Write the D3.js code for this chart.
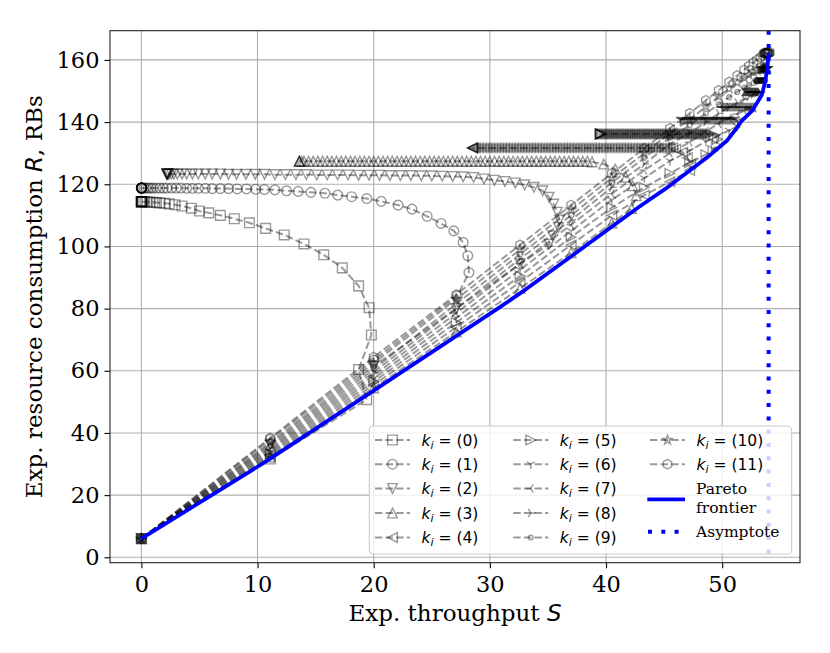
<!DOCTYPE html>
<html>
<head>
<meta charset="utf-8">
<script src="https://cdn.jsdelivr.net/npm/d3@7"></script>
<style>
  body { margin: 0; background: #fff; }
</style>
</head>
<body>
<div id="chart"></div>
<script>
// ---- data ----
const xTicks = [0, 10, 20, 30, 40, 50];
const yTicks = [0, 20, 40, 60, 80, 100, 120, 140, 160];
const seriesLabels = ["(0)", "(1)", "(2)", "(3)", "(4)", "(5)", "(6)", "(7)", "(8)", "(9)", "(10)", "(11)"];
const seriesMarkers = ["square", "circle", "triDown", "triUp", "triLeft", "triRight",
                       "tri1", "tri3", "tri4", "point", "star", "hexagon"];

// k = 0
const s0x = [0, 11.1, 19.4, 18.7, 19.8, 19.6, 18.7, 17.3, 15.7, 14.0, 12.3, 10.7, 9.3, 8.0, 6.8, 5.8, 5.0, 4.3, 3.5, 2.9, 2.4, 2.0, 1.6, 1.3, 1.0, 0.7, 0.5, 0.3, 0.15, 0.05, 0];
const s0y = [6, 31.6, 50.7, 60.4, 71.5, 80.3, 87.3, 93.1, 97.3, 100.8, 103.7, 105.8, 107.6, 108.9, 110.0, 110.8, 111.4, 112.3, 113.0, 113.4, 113.7, 113.9, 114.0, 114.1, 114.2, 114.3, 114.3, 114.4, 114.4, 114.4, 114.4];
const band0x = [0.03, 0.02, 0.01, 0, 0, 0, 0];
const band0y = 114.4;
// k = 1
const s1x = [0, 11.1, 20.0, 27.2, 28.2, 28.1, 27.7, 26.9, 25.8, 24.6, 23.3, 22.1, 20.65, 19.4, 18.1, 16.9, 15.8, 14.6, 13.5, 12.5, 11.5, 10.6, 9.85, 9.05, 8.25, 7.5, 6.8, 6.1, 5.5, 4.9, 4.4, 3.9];
const s1y = [6, 37.9, 63.4, 84.1, 91.6, 97.0, 101.3, 105.0, 107.4, 109.7, 112.0, 113.3, 114.5, 115.4, 116.0, 116.5, 117.1, 117.4, 117.7, 117.9, 118.2, 118.3, 118.4, 118.5, 118.5, 118.6, 118.6, 118.6, 118.7, 118.7, 118.7, 118.7];
const band1x = [3.4, 3.0, 2.6, 2.2, 1.9, 1.6, 1.3, 1.0, 0.8, 0.6, 0.4, 0.25, 0.1, 0.05, 0.03, 0.02, 0.01, 0, 0, 0, 0, 0];
const band1y = 118.8;
// k = 2
const s2x = [0, 11.1, 20, 27.1, 32.6, 35.1, 35.4, 35.9, 36.0, 35.8, 35.5, 35.1, 34.55, 33.8, 33.0, 32.2, 31.3, 30.4, 29.5, 28.6, 27.7, 26.8, 25.9, 25.0, 24.1, 23.2, 22.3, 21.4, 20.5, 19.6, 18.7, 17.8, 16.9, 16.0, 15.1, 14.2, 13.3, 12.4, 11.5, 10.6, 9.8, 9.0, 8.2, 7.5];
const s2y = [6, 36.4, 61.5, 80, 94.3, 100.7, 103.4, 106.1, 108.5, 111, 113.6, 115.8, 117.9, 119.0, 119.8, 120.4, 120.9, 121.3, 121.7, 122.2, 122.4, 122.5, 122.6, 122.7, 122.7, 122.8, 122.8, 122.8, 122.9, 122.9, 122.9, 123.0, 123.0, 123.0, 123.0, 123.1, 123.1, 123.1, 123.1, 123.2, 123.2, 123.2, 123.2, 123.2];
const band2x = [6.8, 6.1, 5.5, 4.9, 4.4, 3.9, 3.5, 3.1, 2.8, 2.6, 2.4, 2.3, 2.25, 2.2, 2.2, 2.2, 2.2];
const band2y = 123.3;
// k = 3
const s3x = [0, 11.1, 20, 27.1, 32.6, 37, 40.5, 42.2, 42.6, 42.3, 41.7, 40.8, 39.8, 38.8];
const s3y = [6, 32.3, 54.5, 72.5, 86.5, 98, 107.5, 112.2, 116.3, 119.5, 122.3, 124.9, 126.5, 127.2];
const band3x = [38.4, 38.0, 37.6, 37.2, 36.8, 36.4, 36.0, 35.6, 35.2, 34.8, 34.4, 34.0, 33.6, 33.2, 32.8, 32.4, 32.0, 31.6, 31.2, 30.8, 30.4, 30.0, 29.6, 29.2, 28.8, 28.4, 28.0, 27.6, 27.2, 26.8, 26.4, 26.0, 25.6, 25.2, 24.8, 24.4, 24.0, 23.6, 23.2, 22.8, 22.4, 22.0, 21.6, 21.2, 20.8, 20.4, 20.0, 19.6, 19.2, 18.8, 18.4, 18.0, 17.6, 17.2, 16.8, 16.4, 16.0, 15.6, 15.2, 14.8, 14.4, 14.0, 13.8, 13.6, 13.6, 13.6];
const band3y = 127.4;
// k = 4
const s4x = [0, 11.1, 20, 27.1, 32.6, 37, 40.5, 43.3, 45.5, 47.2, 47.3, 47.0, 46.6, 46.0];
const s4y = [6, 32.8, 55.5, 74, 88.5, 100.5, 110, 116.5, 120.8, 124.5, 126.5, 128.5, 130.3, 131.3];
const band4x = [45.75, 45.5, 45.25, 45.0, 44.75, 44.5, 44.25, 44.0, 43.75, 43.5, 43.25, 43.0, 42.75, 42.5, 42.25, 42.0, 41.75, 41.5, 41.25, 41.0, 40.75, 40.5, 40.25, 40.0, 39.75, 39.5, 39.25, 39.0, 38.75, 38.5, 38.25, 38.0, 37.75, 37.5, 37.25, 37.0, 36.75, 36.5, 36.25, 36.0, 35.75, 35.5, 35.25, 35.0, 34.75, 34.5, 34.25, 34.0, 33.75, 33.5, 33.25, 33.0, 32.75, 32.5, 32.25, 32.0, 31.75, 31.5, 31.25, 31.0, 30.75, 30.5, 30.25, 30.0, 29.75, 29.5, 29.25, 29.0, 28.75, 28.6, 28.5, 28.5, 28.5];
const band4y = 131.7;
// k = 5
const s5x = [0, 11.1, 20, 27.1, 32.6, 37, 40.5, 43.3, 45.5, 47.2, 48.6, 49.2, 49.5, 49.6, 49.3];
const s5y = [6, 33.4, 56.5, 75.5, 90.5, 103, 112.5, 119, 123.5, 127, 129.5, 130.8, 132.6, 134.5, 135.7];
const band5x = [49.0, 48.85, 48.7, 48.55, 48.4, 48.25, 48.1, 47.95, 47.8, 47.65, 47.5, 47.35, 47.2, 47.05, 46.9, 46.75, 46.6, 46.45, 46.3, 46.15, 46.0, 45.85, 45.7, 45.55, 45.4, 45.25, 45.1, 44.95, 44.8, 44.65, 44.5, 44.35, 44.2, 44.05, 43.9, 43.75, 43.6, 43.45, 43.3, 43.15, 43.0, 42.85, 42.7, 42.55, 42.4, 42.25, 42.1, 41.95, 41.8, 41.65, 41.5, 41.35, 41.2, 41.05, 40.9, 40.75, 40.6, 40.45, 40.3, 40.15, 40.0, 39.85, 39.7, 39.6, 39.55, 39.5, 39.5, 39.5];
const band5y = 136.2;
// k = 6
const s6x = [0, 11.1, 20, 27.1, 32.6, 37, 40.5, 43.3, 45.5, 47.2, 48.6, 49.7, 50.6, 51.3, 51.5, 51.3];
const s6y = [6, 34, 57.5, 77, 92.5, 105, 115, 122, 127.5, 130.8, 133.8, 135.8, 137.3, 138.6, 139.6, 140.5];
const band6x = [51.1, 51.0, 50.9, 50.8, 50.7, 50.6, 50.5, 50.4, 50.3, 50.2, 50.1, 50.0, 49.9, 49.8, 49.7, 49.6, 49.5, 49.4, 49.3, 49.2, 49.1, 49.0, 48.9, 48.8, 48.7, 48.6, 48.5, 48.4, 48.3, 48.2, 48.1, 48.0, 47.9, 47.8, 47.7, 47.6, 47.5, 47.4, 47.3, 47.2, 47.1, 47.0, 46.9, 46.8, 46.7, 46.6, 46.5, 46.4, 46.4];
const band6y = 140.8;
// k = 7
const s7x = [0, 11.1, 20, 27.1, 32.6, 37, 40.5, 43.3, 45.5, 47.2, 48.6, 49.7, 50.6, 51.3, 51.9, 52.3, 52.7];
const s7y = [6, 34.6, 58.5, 78.5, 94.5, 107, 117, 124.5, 130, 133.5, 137, 139.5, 141.3, 142.6, 143.6, 144.2, 144.5];
const band7x = [52.7, 52.6, 52.5, 52.4, 52.3, 52.2, 52.1, 52.0, 51.9, 51.8, 51.7, 51.6, 51.5, 51.4, 51.3, 51.2, 51.1, 51.0, 50.9, 50.8, 50.7, 50.6, 50.5, 50.4, 50.3, 50.2, 50.1, 50.0, 49.9, 49.9];
const band7y = 144.8;
// k = 8
const s8x = [0, 11.1, 20, 27.1, 32.6, 37, 40.5, 43.3, 45.5, 47.2, 48.6, 49.7, 50.6, 51.3, 51.9, 52.3, 52.7, 53.0, 53.3];
const s8y = [6, 35.2, 59.5, 80, 96, 108.5, 119, 126.5, 133, 136.5, 140, 142.8, 144.8, 146.3, 147.4, 148.2, 148.9, 149.3, 149.6];
const band8x = [53.25, 53.2, 53.15, 53.1, 53.05, 53.0, 52.95, 52.9, 52.85, 52.8, 52.75, 52.7, 52.65, 52.6, 52.55, 52.5, 52.45, 52.4, 52.35, 52.3, 52.25, 52.2, 52.15, 52.1, 52.05, 52.0, 51.95, 51.9];
const band8y = 149.7;
// k = 9
const s9x = [0, 11.1, 20, 27.1, 32.6, 37, 40.5, 43.3, 45.5, 47.2, 48.6, 49.7, 50.6, 51.3, 51.9, 52.3, 52.7, 53.0, 53.3, 53.5, 53.7];
const s9y = [6, 35.8, 60.5, 81.5, 97.5, 110, 120.5, 128.5, 135, 139, 142.8, 145.7, 148, 149.7, 151.1, 151.9, 152.6, 153.0, 153.3, 153.4, 153.4];
const band9x = [53.65, 53.6, 53.55, 53.5, 53.45, 53.4, 53.35, 53.3, 53.25, 53.2, 53.15, 53.1, 53.05, 53.0, 52.95, 52.9];
const band9y = 153.4;
// k = 10
const s10x = [0, 11.1, 20, 27.1, 32.6, 37, 40.5, 43.3, 45.5, 47.2, 48.6, 49.7, 50.6, 51.3, 51.9, 52.3, 52.7, 53.0, 53.3, 53.6, 53.9];
const s10y = [6, 37, 62.5, 83, 99, 111.8, 122, 130, 136.5, 140.8, 145, 148.2, 150.8, 152.7, 154.2, 155.2, 156, 156.6, 157, 157.2, 157.3];
const band10x = [53.85, 53.8, 53.75, 53.7, 53.65, 53.6, 53.55, 53.5, 53.45, 53.4];
const band10y = 157.2;
// k = 11
const s11x = [0, 11.1, 20, 27.1, 32.6, 37, 40.5, 43.3, 45.5, 47.2, 48.6, 49.7, 50.6, 51.3, 51.9, 52.3, 52.7, 53.0, 53.3, 53.5, 53.7, 53.9, 54.1];
const s11y = [6, 38.4, 64.4, 84.5, 100.5, 113.3, 123.5, 131.5, 138, 142.8, 147, 150.2, 152.9, 155, 156.8, 158, 159.2, 160, 160.8, 161.4, 161.9, 162.3, 162.5];
const band11x = [54.05, 54.0, 53.95, 53.9, 53.85, 53.8, 53.75, 53.7, 53.65, 53.6];
const band11y = 162.2;

// Pareto frontier and asymptote
const paretoX = [0, 10.5, 19.9, 30.8, 33.1, 42.8, 45.1, 48.9, 50.4, 51.2, 51.7, 52.6, 53.4, 53.7, 53.9, 54.0];
const paretoY = [6, 30.3, 53.4, 80.3, 86.2, 112.6, 118.5, 129.2, 134, 137.8, 140.5, 143.7, 148.6, 152.9, 157.7, 162.2];
const asymptoteX = 54;

const seriesX = [s0x, s1x, s2x, s3x, s4x, s5x, s6x, s7x, s8x, s9x, s10x, s11x];
const seriesY = [s0y, s1y, s2y, s3y, s4y, s5y, s6y, s7y, s8y, s9y, s10y, s11y];
const bandsX = [band0x, band1x, band2x, band3x, band4x, band5x, band6x, band7x, band8x, band9x, band10x, band11x];
const bandsY = [band0y, band1y, band2y, band3y, band4y, band5y, band6y, band7y, band8y, band9y, band10y, band11y];

// ---- layout ----
const width = 830, height = 653;
const plot = { left: 110, right: 800, top: 30.7, bottom: 562.7 };
const serif = "'DejaVu Serif', serif";
const sans = "'DejaVu Sans', sans-serif";
const grey = "#000";
const greyAlpha = 0.4;
const fontTick = "22.5px";
const fontLabel = "23px";
const fontLegend = "15.5px";

const x = d3.scaleLinear().domain([-2.7, 56.7]).range([plot.left, plot.right]);
const y = d3.scaleLinear().domain([-1.74, 169.4]).range([plot.bottom, plot.top]);

const svg = d3.select("#chart").append("svg")
    .attr("width", width)
    .attr("height", height)
    .style("display", "block");

svg.append("defs").append("clipPath").attr("id", "plotClip")
    .append("rect")
    .attr("x", plot.left).attr("y", plot.top)
    .attr("width", plot.right - plot.left).attr("height", plot.bottom - plot.top);

// grid
const grid = svg.append("g");
grid.selectAll(".gx").data(xTicks).join("line")
    .attr("x1", d => x(d)).attr("x2", d => x(d))
    .attr("y1", plot.top).attr("y2", plot.bottom)
    .attr("stroke", "#b0b0b0").attr("stroke-width", 1.1);
grid.selectAll(".gy").data(yTicks).join("line")
    .attr("y1", d => y(d)).attr("y2", d => y(d))
    .attr("x1", plot.left).attr("x2", plot.right)
    .attr("stroke", "#b0b0b0").attr("stroke-width", 1.1);

// marker shapes (matplotlib-like, markersize ~9.7px)
function markerPath(type) {
    const h = 4.85;
    const poly = pts => "M" + pts.map(p => p[0].toFixed(2) + "," + p[1].toFixed(2)).join("L") + "Z";
    const spokes = angs => angs.map(a => {
        const r = a * Math.PI / 180;
        return `M0,0L${(h * Math.cos(r)).toFixed(2)},${(h * Math.sin(r)).toFixed(2)}`;
    }).join("");
    switch (type) {
        case "square": return poly([[-h, -h], [h, -h], [h, h], [-h, h]]);
        case "circle": return `M${h},0A${h},${h} 0 1,1 ${-h},0A${h},${h} 0 1,1 ${h},0Z`;
        case "point": { const r = h / 2; return `M${r},0A${r},${r} 0 1,1 ${-r},0A${r},${r} 0 1,1 ${r},0Z`; }
        case "triDown": return poly([[0, h], [-h, -h], [h, -h]]);
        case "triUp": return poly([[0, -h], [-h, h], [h, h]]);
        case "triLeft": return poly([[-h, 0], [h, -h], [h, h]]);
        case "triRight": return poly([[h, 0], [-h, -h], [-h, h]]);
        case "tri1": return spokes([90, 210, 330]);
        case "tri3": return spokes([180, 300, 60]);
        case "tri4": return spokes([0, 120, 240]);
        case "star": {
            const pts = [];
            for (let i = 0; i < 10; i++) {
                const r = i % 2 ? h * 0.381966 : h;
                const a = (-90 + 36 * i) * Math.PI / 180;
                pts.push([r * Math.cos(a), r * Math.sin(a)]);
            }
            return poly(pts);
        }
        case "hexagon": {
            const pts = [];
            for (let i = 0; i < 6; i++) {
                const a = (-90 + 60 * i) * Math.PI / 180;
                pts.push([h * Math.cos(a), h * Math.sin(a)]);
            }
            return poly(pts);
        }
    }
}

const line = d3.line().x(d => x(d[0])).y(d => y(d[1]));

// series
const dataLayer = svg.append("g").attr("clip-path", "url(#plotClip)");
seriesX.forEach((xs, k) => {
    const pts = d3.zip(xs, seriesY[k]).concat(bandsX[k].map(v => [v, bandsY[k]]));
    const g = dataLayer.append("g");
    g.append("path")
        .attr("d", line(pts))
        .attr("fill", "none")
        .attr("stroke", grey)
        .attr("stroke-opacity", greyAlpha)
        .attr("stroke-width", 2)
        .attr("stroke-dasharray", "7.4,3.2");
    g.selectAll("path.mk").data(pts).join("path")
        .attr("class", "mk")
        .attr("transform", d => `translate(${x(d[0])},${y(d[1])})`)
        .attr("d", markerPath(seriesMarkers[k]))
        .attr("fill", "none")
        .attr("stroke", grey)
        .attr("stroke-opacity", greyAlpha)
        .attr("stroke-width", 1.39);
});

// Pareto frontier
dataLayer.append("path")
    .attr("d", line(d3.zip(paretoX, paretoY)))
    .attr("fill", "none")
    .attr("stroke", "#0000ff")
    .attr("stroke-width", 3.8)
    .attr("stroke-linejoin", "round");

// asymptote
dataLayer.append("line")
    .attr("x1", x(asymptoteX)).attr("x2", x(asymptoteX))
    .attr("y1", plot.top).attr("y2", plot.bottom)
    .attr("stroke", "#0000ff")
    .attr("stroke-width", 4)
    .attr("stroke-dasharray", "4,9.3");

// axes
const xAxis = svg.append("g")
    .attr("transform", `translate(0,${plot.bottom})`)
    .call(d3.axisBottom(x).tickValues(xTicks).tickFormat(d3.format("d")).tickSize(5.5).tickPadding(8));
const yAxis = svg.append("g")
    .attr("transform", `translate(${plot.left},0)`)
    .call(d3.axisLeft(y).tickValues(yTicks).tickFormat(d3.format("d")).tickSize(5.5).tickPadding(5));
[xAxis, yAxis].forEach(a => {
    a.select(".domain").remove();
    a.selectAll(".tick line").attr("stroke", "#000").attr("stroke-width", 1.1);
    a.selectAll(".tick text")
        .attr("fill", "#000")
        .style("font-family", serif)
        .style("font-size", fontTick);
});

// spines
svg.append("rect")
    .attr("x", plot.left).attr("y", plot.top)
    .attr("width", plot.right - plot.left).attr("height", plot.bottom - plot.top)
    .attr("fill", "none")
    .attr("stroke", "#222")
    .attr("stroke-width", 1.1);

// axis labels
const xLabel = svg.append("text")
    .attr("x", (plot.left + plot.right) / 2)
    .attr("y", 621)
    .attr("text-anchor", "middle")
    .style("font-family", serif)
    .style("font-size", fontLabel);
xLabel.append("tspan").text("Exp. throughput ");
xLabel.append("tspan").style("font-family", sans).style("font-style", "italic").text("S");

const yLabel = svg.append("text")
    .attr("transform", `translate(42,${(plot.top + plot.bottom) / 2}) rotate(-90)`)
    .attr("text-anchor", "middle")
    .style("font-family", serif)
    .style("font-size", fontLabel);
yLabel.append("tspan").text("Exp. resource consumption ");
yLabel.append("tspan").style("font-family", sans).style("font-style", "italic").text("R");
yLabel.append("tspan").text(", RBs");

// legend
const legend = svg.append("g");
legend.append("rect")
    .attr("x", 369.3).attr("y", 426)
    .attr("width", 422.4).attr("height", 128)
    .attr("rx", 4)
    .attr("fill", "#fff").attr("fill-opacity", 0.8)
    .attr("stroke", "#cccccc").attr("stroke-width", 1.1);

const colX = [375, 513.3, 650];
const rowY = [440, 464.2, 488.5, 513, 537.5];
const handleLen = 35;

seriesLabels.forEach((lab, k) => {
    const cx = colX[Math.floor(k / 5)];
    const cy = rowY[k % 5];
    const g = legend.append("g");
    g.append("line")
        .attr("x1", cx).attr("x2", cx + handleLen)
        .attr("y1", cy).attr("y2", cy)
        .attr("stroke", grey).attr("stroke-opacity", greyAlpha)
        .attr("stroke-width", 2).attr("stroke-dasharray", "7.4,3.2");
    g.append("path")
        .attr("transform", `translate(${cx + handleLen / 2},${cy})`)
        .attr("d", markerPath(seriesMarkers[k]))
        .attr("fill", "none")
        .attr("stroke", grey).attr("stroke-opacity", greyAlpha)
        .attr("stroke-width", 1.39);
    const t = g.append("text")
        .attr("x", cx + handleLen + 11.5)
        .attr("y", cy + 5.5)
        .style("font-family", sans)
        .style("font-size", fontLegend);
    t.append("tspan").style("font-style", "italic").text("k");
    t.append("tspan").style("font-style", "italic").style("font-size", "11px").attr("dy", 3).text("i");
    t.append("tspan").attr("dy", -3).text(" = " + lab);
});

// Pareto legend entry
legend.append("line")
    .attr("x1", 647.3).attr("x2", 685)
    .attr("y1", 499.3).attr("y2", 499.3)
    .attr("stroke", "#0000ff").attr("stroke-width", 3.8);
legend.append("text")
    .attr("x", 696).attr("y", 494)
    .style("font-family", serif).style("font-size", fontLegend)
    .text("Pareto");
legend.append("text")
    .attr("x", 696).attr("y", 512.5)
    .style("font-family", serif).style("font-size", fontLegend)
    .text("frontier");

// Asymptote legend entry
legend.append("line")
    .attr("x1", 648).attr("x2", 685)
    .attr("y1", 531.7).attr("y2", 531.7)
    .attr("stroke", "#0000ff").attr("stroke-width", 4)
    .attr("stroke-dasharray", "4,9.3");
legend.append("text")
    .attr("x", 696).attr("y", 537)
    .style("font-family", serif).style("font-size", fontLegend)
    .text("Asymptote");
</script>
</body>
</html>
